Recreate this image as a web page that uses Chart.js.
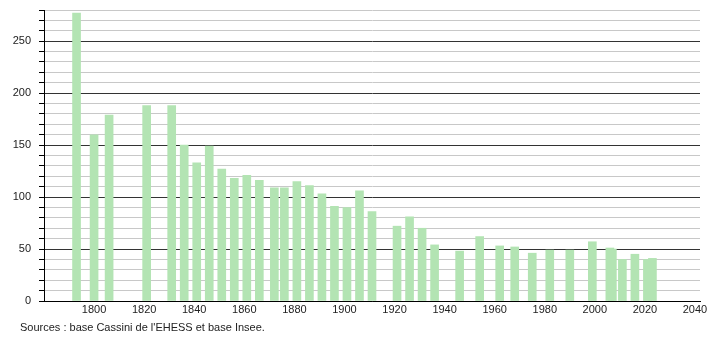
<!DOCTYPE html>
<html>
<head>
<meta charset="utf-8">
<script src="https://cdn.jsdelivr.net/npm/chart.js@4"></script>
<style>
  body { margin: 0; background: #fff; }
  #wrap { position: relative; width: 710px; height: 340px; }
  #source {
    position: absolute; left: 20px; top: 321px;
    font: 11px "Liberation Sans", Arial, sans-serif; color: #222;
  }
</style>
</head>
<body>
<div id="wrap">
  <canvas id="popChart" width="710" height="340"></canvas>
  <div id="source">Sources : base Cassini de l'EHESS et base Insee.</div>
</div>
<script>
// Census years and population
const years = [1793, 1800, 1806, 1821, 1831, 1836, 1841, 1846, 1851, 1856,
               1861, 1866, 1872, 1876, 1881, 1886, 1891, 1896, 1901, 1906,
               1911, 1921, 1926, 1931, 1936, 1946, 1954, 1962, 1968, 1975,
               1982, 1990, 1999, 2006, 2007, 2011, 2016, 2021, 2023];
const population = [277, 160, 179, 188, 188, 150, 133, 149, 127, 118,
                    121, 116, 109, 109, 115, 111, 103, 91, 90, 106,
                    86, 72, 81, 70, 54, 48, 62, 53, 52, 46,
                    49, 49, 57, 51, 50, 40, 45, 40, 41];
const xTicks = [1800, 1820, 1840, 1860, 1880, 1900, 1920, 1940, 1960, 1980, 2000, 2020, 2040];
const yLabels = [0, 50, 100, 150, 200, 250];

const font = { family: '"Liberation Sans", Arial, sans-serif', size: 11 };

// Build chart
const ctx = document.getElementById('popChart').getContext('2d');
new Chart(ctx, {
    type: 'bar',
    data: {
        datasets: [{
            data: years.map((y, i) => ({ x: y, y: population[i] })),
            backgroundColor: '#b3e4b3',
            borderWidth: 0,
            barThickness: 8
        }]
    },
    options: {
        responsive: false,
        animation: false,
        layout: { padding: { top: 10, right: 10, bottom: 19, left: 0 } },
        plugins: {
            legend: { display: false },
            tooltip: { enabled: false }
        },
        scales: {
            x: {
                type: 'linear',
                min: 1780,
                max: 2042,
                offset: false,
                afterBuildTicks: s => { s.ticks = xTicks.map(v => ({ value: v })); },
                afterFit: s => { s.height = 20; s.paddingLeft = 0; s.paddingRight = 0; },
                ticks: {
                    autoSkip: false,
                    maxRotation: 0,
                    padding: 2,
                    color: '#222',
                    font: font,
                    callback: v => String(v)
                },
                grid: { display: false, drawTicks: false, tickLength: 0 },
                border: { display: true, color: '#000', width: 1 }
            },
            y: {
                min: 0,
                max: 280,
                afterBuildTicks: s => {
                    const t = [];
                    for (let v = 0; v <= 280; v += 10) t.push({ value: v });
                    s.ticks = t;
                },
                afterFit: s => { s.width = 44; s.paddingTop = 0; s.paddingBottom = 0; },
                ticks: {
                    autoSkip: false,
                    padding: 8,
                    color: '#222',
                    font: font,
                    callback: v => yLabels.includes(v) ? String(v) : ''
                },
                grid: {
                    color: c => c.tick && c.tick.value % 50 === 0 ? '#333' : '#c8c8c8',
                    tickColor: '#000',
                    tickLength: 5,
                    lineWidth: 1
                },
                border: { display: true, color: '#000', width: 1 }
            }
        }
    }
});
</script>
</body>
</html>
